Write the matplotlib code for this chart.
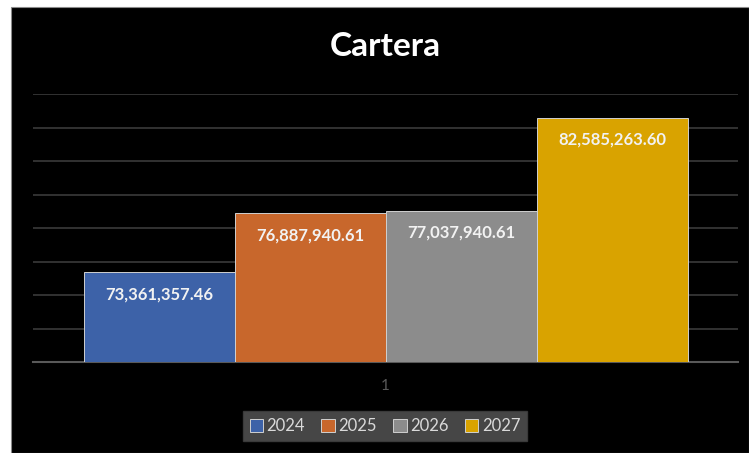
import numpy as np
import matplotlib.pyplot as plt
from matplotlib.patches import Rectangle

# datos de cartera por año
years = ['2024', '2025', '2026', '2027']
values = [73361357.46, 76887940.61, 77037940.61, 82585263.60]
labels = ['73,361,357.46', '76,887,940.61', '77,037,940.61', '82,585,263.60']
colors = ['#3D62A8', '#C8672C', '#8C8C8C', '#D9A300']

plt.rcParams['font.family'] = ['Lato', 'DejaVu Sans']

W, H = 749, 453
fig = plt.figure(figsize=(W / 100, H / 100), dpi=100)
fig.patch.set_facecolor('white')
# fondo negro del grafico (borde blanco arriba e izquierda)
fig.patches.append(Rectangle((11 / W, 0), 1 - 11 / W, 1 - 7 / H, transform=fig.transFigure,
                             facecolor='black', edgecolor='#8a8a8a', lw=0.8, zorder=-10))

ax = fig.add_axes([33 / W, (H - 362) / H, (738 - 33) / W, (362 - 94) / H])
ax.patch.set_alpha(0)

w = 151 / 705
offsets = (np.arange(len(years)) - 1.5) * w
bars = ax.bar(offsets, values, width=w, color=colors, edgecolor='#d0d0d0', linewidth=0.7,
              label=years, zorder=3)
for b, lab in zip(bars, labels):
    ax.annotate(lab, (b.get_x() + b.get_width() / 2, b.get_height()), xytext=(0, -16),
                textcoords='offset points', ha='center', va='center', color='#f2f2f2',
                fontsize=12, fontweight='bold', zorder=4)

ax.set_xlim(-0.5, 0.5)
ax.set_ylim(68e6, 84e6)
ax.set_yticks(np.arange(68e6, 84e6 + 1, 2e6))
ax.yaxis.grid(True, color='#3a3a3a', lw=1.2)
ax.set_axisbelow(True)
ax.tick_params(left=False, labelleft=False, bottom=False)
ax.set_xticks([0])
ax.set_xticklabels(['1'], color='#595959', fontsize=11)
ax.tick_params(axis='x', pad=9)
for s in ['top', 'right', 'left']:
    ax.spines[s].set_visible(False)
ax.spines['bottom'].set_color('#595959')
ax.spines['bottom'].set_linewidth(1.5)

fig.text(385 / W, 1 - 47 / H, 'Cartera', ha='center', va='center', color='white',
         fontsize=24, fontweight='bold')

leg = fig.legend(handles=bars, labels=years, loc='center', bbox_to_anchor=(385 / W, 1 - 426 / H),
                 ncol=4, frameon=True, fontsize=12, handlelength=0.8, handleheight=0.8,
                 handletextpad=0.2, columnspacing=1.0, borderpad=0.4, fancybox=False)
leg.get_frame().set_facecolor('#595959')
leg.get_frame().set_edgecolor('#404040')
for t in leg.get_texts():
    t.set_color('#d9d9d9')

fig.savefig('out.png', dpi=100, facecolor=fig.get_facecolor())
